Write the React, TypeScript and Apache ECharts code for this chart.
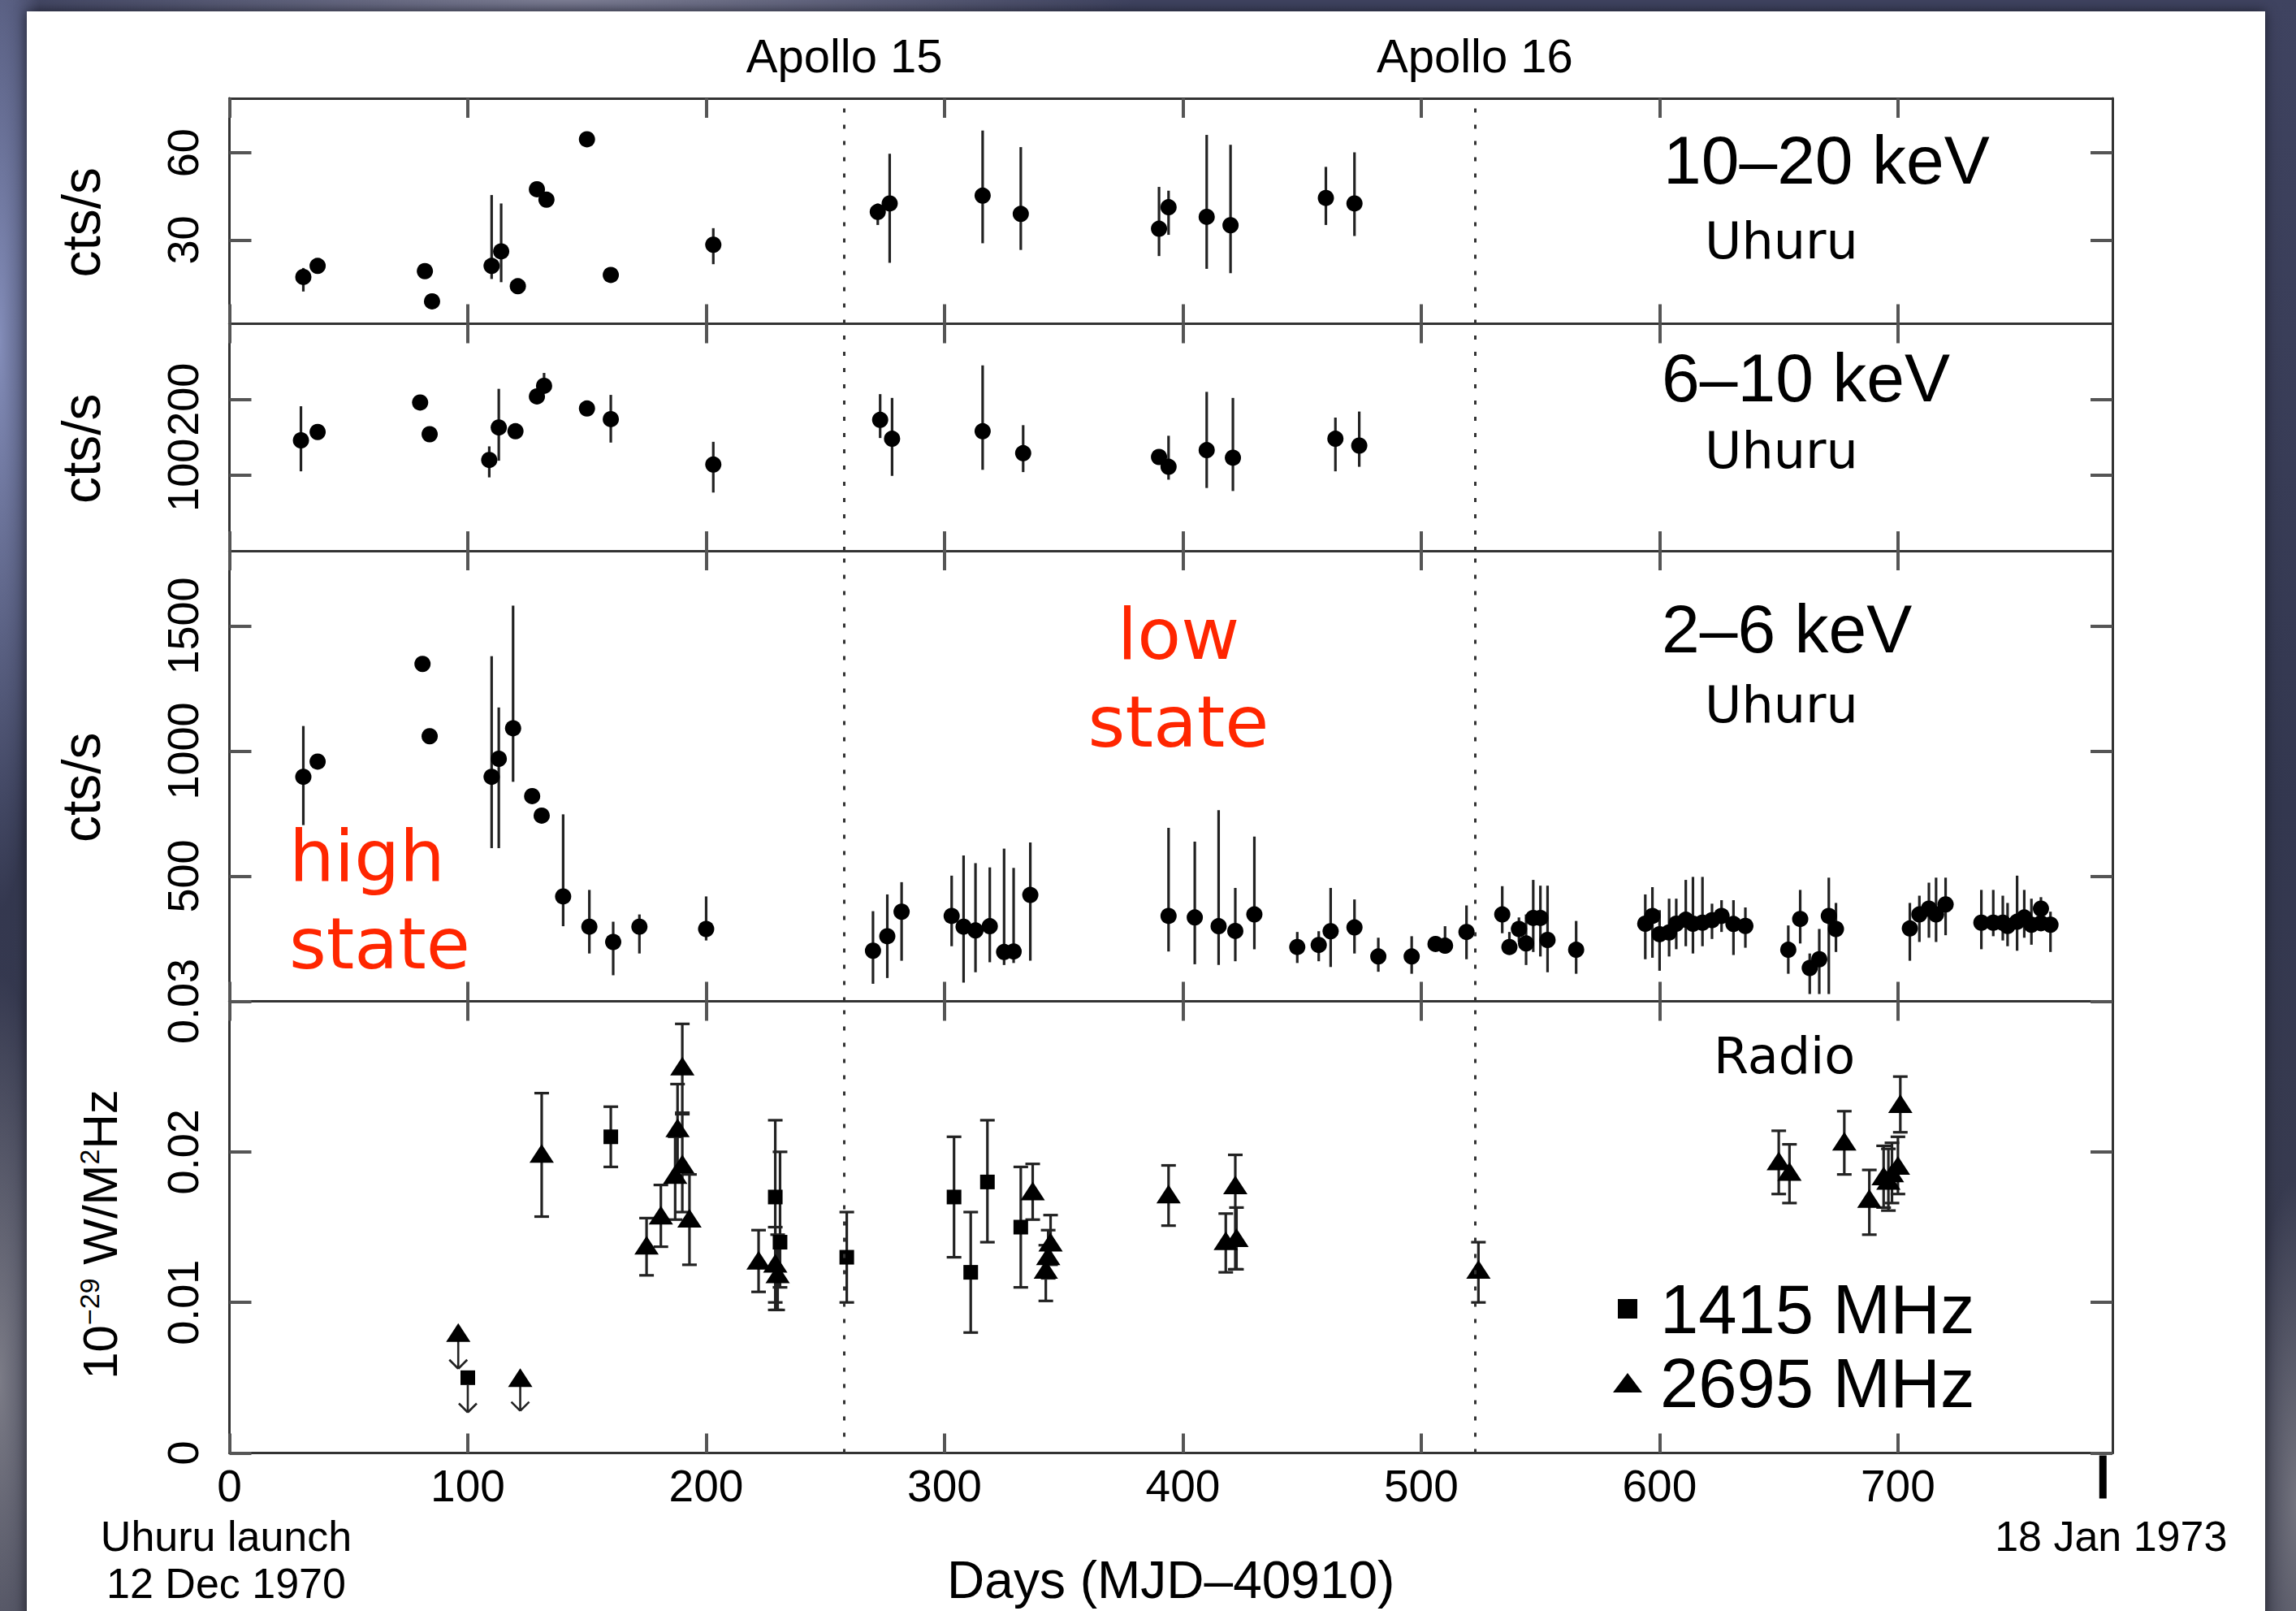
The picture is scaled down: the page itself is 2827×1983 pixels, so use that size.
import React, { useEffect, useRef } from 'react';
import * as echarts from 'echarts';

const SANS = "'Liberation Sans', Arial, Helvetica, sans-serif";
const VERD = "'DejaVu Sans', Verdana, sans-serif";

// ---------- axes / annotations ----------
const dayTicks = [0, 100, 200, 300, 400, 500, 600, 700];
const apolloDays = [258, 522.5];
const apolloNames = ['Apollo 15', 'Apollo 16'];
const milestoneDays = [0, 786];
const milestoneLabels = ['Uhuru launch\n12 Dec 1970', '18 Jan 1973'];

// ---------- 10–20 keV (Uhuru) ----------
const hardDay = [31, 37, 82, 85, 110, 114, 121, 129, 133, 150, 160, 203, 272, 277, 316, 332, 390, 394, 410, 420, 460, 472];
const hardRate = [17.3, 21.1, 19.3, 8.9, 21.1, 26.1, 14.1, 47.5, 43.9, 64.7, 18.0, 28.4, 39.7, 42.6, 45.3, 39.0, 33.9, 41.3, 38.0, 35.1, 44.5, 42.6];
const hardLo = [12.3, null, null, null, 16.6, 15.5, null, null, null, null, null, 21.7, 35.2, 22.2, 28.9, 26.6, 24.5, 31.8, 20.1, 18.6, 35.2, 31.4];
const hardHi = [20.4, null, null, null, 45.5, 42.6, null, null, null, null, null, 34.1, 42.6, 59.7, 67.7, 62.0, 48.3, 47.0, 66.2, 62.8, 55.2, 60.2];

// ---------- 6–10 keV (Uhuru) ----------
const midDay = [30, 37, 80, 84, 109, 113, 120, 129, 132, 150, 160, 203, 273, 278, 316, 333, 390, 394, 410, 421, 464, 474];
const midRate = [146, 157, 196, 154, 120, 163, 158, 204, 218, 188, 174, 114, 173, 148, 158, 129, 124, 111, 133, 123, 148, 139];
const midLo = [105, null, null, null, 97, 119, null, null, 210, null, 143, 77, 149, 99, 107, 104, null, 94, 83, 79, 105, 111];
const midHi = [191, null, null, null, 138, 214, null, null, 235, null, 206, 144, 207, 202, 245, 166, null, 152, 210, 202, 176, 184];

// ---------- 2–6 keV (Uhuru) ----------
const softDay = [31, 37, 81, 84, 110, 113, 119, 127, 131, 140, 151, 161, 172, 200,
  270, 276, 282, 303, 308, 313, 319, 325, 329, 336, 394, 405, 415, 422, 430, 448, 457, 462, 472, 482,
  496, 506, 510, 519, 534, 537, 541, 544, 547, 550, 553, 565, 594, 597, 600, 604, 607, 611, 614, 618,
  622, 626, 631, 636, 654, 659, 663, 667, 671, 674, 705, 709, 713, 716, 720, 735, 740, 744, 746, 750,
  753, 756, 760, 760, 764];
const softRate = [897, 958, 1348, 1059, 897, 969, 1091, 820, 742, 419, 298, 237, 298, 289,
  202, 260, 358, 341, 298, 283, 300, 197, 199, 425, 341, 335, 300, 281, 347, 217, 225, 280, 295, 179,
  179, 229, 222, 277, 347, 217, 289, 231, 333, 333, 245, 206, 310, 341, 268, 275, 310, 326, 310, 314,
  324, 341, 309, 301, 206, 329, 133, 168, 341, 289, 291, 347, 370, 347, 387, 314, 314, 314, 301, 318,
  335, 306, 370, 312, 306];
const softLo = [704, null, null, null, 612, 612, 877, null, null, 300, 191, 104, 191, 243,
  70, 93, 162, 220, 75, 116, 156, 145, 153, 162, 199, 148, 145, 160, 208, 153, 160, 137, 191, 118,
  110, null, 191, 168, 272, 187, 237, 145, 197, 179, 116, 110, 168, 174, 122, 179, 208, 220, 191, 220,
  249, 277, 185, 214, 110, 231, 29, 29, 29, 197, 162, 237, 254, 237, 264, 208, 260, 243, 220, 202,
  254, 226, 312, null, 197];
const softHi = [1100, null, null, null, 1379, 1174, 1581, null, null, 747, 445, 318, 347, 419,
  360, 427, 476, 502, 583, 552, 535, 610, 533, 635, 693, 638, 764, 453, 658, 277, 280, 453, 407, 254,
  260, null, 300, 383, 460, 277, 335, 347, 485, 462, 462, 321, 427, 456, 364, 410, 410, 485, 497, 497,
  390, 404, 404, 375, 303, 445, 191, 289, 494, 393, 393, 422, 474, 494, 494, 445, 445, 422, 393, 502,
  445, 410, 416, null, 358];

// ---------- Radio 1415 MHz (squares) ----------
const sqDay = [160, 229, 231, 259, 304, 311, 318, 332];
const sqFlux = [0.0210, 0.0170, 0.0140, 0.0130, 0.0170, 0.0120, 0.0180, 0.0150];
const sqLo = [0.0190, 0.0095, 0.0110, 0.0100, 0.0130, 0.0080, 0.0140, 0.0110];
const sqHi = [0.0230, 0.0221, 0.0200, 0.0160, 0.0210, 0.0160, 0.0221, 0.0190];
const sqLimDay = [100];
const sqLimFlux = [0.0050];
const sqLimTip = [0.0027];

// ---------- Radio 2695 MHz (triangles) ----------
const triDay = [131, 175, 181, 187, 188, 190, 190, 193, 222, 229, 230, 337, 342.5, 343.5, 344.5, 394, 418, 422, 422.5, 524, 650, 654.5, 677.5, 688, 694, 696, 697.5, 700, 701];
const triFlux = [0.0199, 0.0138, 0.0158, 0.0185, 0.0216, 0.0192, 0.0257, 0.0156, 0.0128, 0.0126, 0.0119, 0.0174, 0.0122, 0.0131, 0.0140, 0.0172, 0.0141, 0.0178, 0.0143, 0.0122, 0.0194, 0.0187, 0.0207, 0.0169, 0.0184, 0.0181, 0.0186, 0.0191, 0.0232];
const triLo = [0.0157, 0.0118, 0.0137, 0.0155, 0.0180, 0.0160, 0.0226, 0.0125, 0.0107, 0.0100, 0.0095, 0.0155, 0.0101, 0.0116, 0.0125, 0.0151, 0.0120, 0.0122, 0.0122, 0.0100, 0.0172, 0.0166, 0.0185, 0.0145, 0.0163, 0.0161, 0.0166, 0.0172, 0.0213];
const triHi = [0.0239, 0.0156, 0.0178, 0.0210, 0.0245, 0.0225, 0.0285, 0.0185, 0.0148, 0.0150, 0.0145, 0.0192, 0.0138, 0.0148, 0.0158, 0.0191, 0.0159, 0.0198, 0.0163, 0.0140, 0.0214, 0.0205, 0.0227, 0.0188, 0.0204, 0.0202, 0.0206, 0.0210, 0.0250];
const triLimDay = [96, 122];
const triLimFlux = [0.0080, 0.0050];
const triLimTip = [0.0056, 0.0028];

// ---------- panel y-scales ----------
const yMin = [1.2, 0, 0, 0];
const yMax = [78.8, 300, 1800, 0.03];
const yTickVals = [[30, 60], [100, 200], [500, 1000, 1500], [0, 0.01, 0.02, 0.03]];

// ---------- layout ----------
const GL = 282.5;
const GW = 2318.5;
const panelTop = [121, 398.5, 678, 1232.5];
const panelH = [277.5, 279.5, 554.5, 556];

const AX = '#333';
const TK = '#555';

function errRows(d: number[], v: number[], lo: (number | null)[], hi: (number | null)[]) {
  const rows: number[][] = [];
  d.forEach((x, i) => {
    if (lo[i] != null && hi[i] != null) rows.push([x, v[i], lo[i] as number, hi[i] as number]);
  });
  return rows;
}

function plainErr(params: any, api: any) {
  const d = api.value(0);
  const a = api.coord([d, api.value(2)]);
  const b = api.coord([d, api.value(3)]);
  return { type: 'line', shape: { x1: a[0], y1: a[1], x2: b[0], y2: b[1] }, style: { stroke: '#222', lineWidth: 3.2 } };
}

function capErr(params: any, api: any) {
  const d = api.value(0);
  const a = api.coord([d, api.value(2)]);
  const b = api.coord([d, api.value(3)]);
  const st = { stroke: '#222', lineWidth: 3.2 };
  const c = 9;
  return {
    type: 'group',
    children: [
      { type: 'line', shape: { x1: a[0], y1: a[1], x2: b[0], y2: b[1] }, style: st },
      { type: 'line', shape: { x1: a[0] - c, y1: a[1], x2: a[0] + c, y2: a[1] }, style: st },
      { type: 'line', shape: { x1: b[0] - c, y1: b[1], x2: b[0] + c, y2: b[1] }, style: st },
    ],
  };
}

function limitArrow(params: any, api: any) {
  const d = api.value(0);
  const p0 = api.coord([d, api.value(1)]);
  const p1 = api.coord([d, api.value(2)]);
  const st = { stroke: '#222', lineWidth: 2.6 };
  const h = 11;
  return {
    type: 'group',
    children: [
      { type: 'line', shape: { x1: p0[0], y1: p0[1] + 9, x2: p1[0], y2: p1[1] }, style: st },
      { type: 'line', shape: { x1: p1[0] - h, y1: p1[1] - h, x2: p1[0], y2: p1[1] }, style: st },
      { type: 'line', shape: { x1: p1[0] + h, y1: p1[1] - h, x2: p1[0], y2: p1[1] }, style: st },
    ],
  };
}

function milestoneRender(params: any, api: any) {
  const d = api.value(0);
  const p = api.coord([d, 0]);
  const label = milestoneLabels[params.dataIndex] || '';
  const children: any[] = [];
  const isEnd = params.dataIndex === 1;
  if (isEnd) {
    children.push({ type: 'rect', shape: { x: p[0] - 4.5, y: p[1] + 3, width: 9, height: 53 }, style: { fill: '#000' } });
  }
  children.push({
    type: 'text',
    style: {
      text: label, x: p[0] + (isEnd ? 10 : -4), y: p[1] + 73,
      fill: '#000', fontSize: 52, fontFamily: SANS, lineHeight: 58,
      align: 'center', verticalAlign: 'top', textAlign: 'center', textVerticalAlign: 'top',
    },
  });
  return { type: 'group', children };
}

function xAx(gi: number, pos: string, showLabel: boolean, name?: string) {
  return {
    type: 'value', gridIndex: gi, position: pos, min: 0, max: 790,
    axisLine: { show: true, onZero: false, lineStyle: { color: AX, width: 3 } },
    axisTick: { show: true, inside: true, length: 24, customValues: dayTicks, lineStyle: { color: TK, width: 4 } },
    axisLabel: {
      show: showLabel, customValues: dayTicks, margin: 16, fontSize: 55, lineHeight: 48, fontFamily: SANS, color: '#000',
      formatter: (v: number) => (v > 700 ? '' : String(v)),
    },
    splitLine: { show: false },
    name: name || '',
    nameLocation: 'middle',
    nameGap: 124,
    nameTextStyle: { fontSize: 64, fontFamily: SANS, color: '#000' },
  };
}

function yAx(gi: number, pos: string, showLabel: boolean, extra: any = {}) {
  return {
    type: 'value', gridIndex: gi, position: pos, min: yMin[gi], max: yMax[gi],
    axisLine: { show: true, onZero: false, lineStyle: { color: AX, width: 3 } },
    axisTick: { show: true, inside: true, length: 27, customValues: yTickVals[gi], lineStyle: { color: TK, width: 4 } },
    axisLabel: {
      show: showLabel, customValues: yTickVals[gi], rotate: 90, margin: 31, fontSize: 54, fontFamily: SANS, color: '#000',
      formatter: (v: number) => String(v),
    },
    splitLine: { show: false },
    ...extra,
  };
}

const ctsName = {
  name: 'cts/s', nameLocation: 'middle', nameGap: 150,
  nameTextStyle: { fontSize: 66, fontFamily: SANS, color: '#000', padding: [0, 28, 0, 0] },
};

const radioName = {
  name: '{n|10}{s|−29}{n| W/M}{s|2}{n|Hz}', nameLocation: 'middle', nameGap: 128,
  nameTextStyle: {
    color: '#000', fontFamily: SANS, padding: [0, 18, 0, 0],
    rich: {
      n: { fontSize: 60, fontFamily: SANS, color: '#000', lineHeight: 62 },
      s: { fontSize: 34, fontFamily: SANS, color: '#000', verticalAlign: 'top', lineHeight: 62, padding: [0, 0, 24, 0] },
    },
  },
};

function apolloMarkLine(withLabel: boolean) {
  return {
    silent: true,
    animation: false,
    symbol: ['none', 'none'],
    lineStyle: { type: [5, 15], color: '#333', width: 3 },
    label: {
      show: withLabel, position: 'end', distance: 24, fontSize: 58, fontFamily: SANS, color: '#000',
    },
    data: apolloDays.map((d, k) => ({ xAxis: d, label: { formatter: apolloNames[k] } })),
  };
}

const xraySets = [
  { d: hardDay, v: hardRate, lo: hardLo, hi: hardHi },
  { d: midDay, v: midRate, lo: midLo, hi: midHi },
  { d: softDay, v: softRate, lo: softLo, hi: softHi },
];

function buildOption() {
  const grid = panelTop.map((t, i) => ({ left: GL, top: t, width: GW, height: panelH[i] }));
  const xAxis: any[] = [];
  const yAxis: any[] = [];
  for (let i = 0; i < 4; i++) {
    xAxis.push(xAx(i, 'bottom', i === 3, i === 3 ? 'Days (MJD–40910)' : ''));
    xAxis.push(xAx(i, 'top', false));
    yAxis.push(yAx(i, 'left', true, i < 3 ? ctsName : radioName));
    yAxis.push(yAx(i, 'right', false));
  }

  const series: any[] = [];
  xraySets.forEach((s, i) => {
    series.push({
      type: 'custom', xAxisIndex: 2 * i, yAxisIndex: 2 * i, z: 2, silent: true,
      renderItem: plainErr, data: errRows(s.d, s.v, s.lo, s.hi),
    });
    series.push({
      type: 'scatter', xAxisIndex: 2 * i, yAxisIndex: 2 * i, z: 3, silent: true,
      symbol: 'circle', symbolSize: 20, itemStyle: { color: '#000', opacity: 1 },
      data: s.d.map((x, k) => [x, s.v[k]]),
      markLine: apolloMarkLine(i === 0),
    });
  });

  // radio
  series.push({
    type: 'custom', xAxisIndex: 6, yAxisIndex: 6, z: 2, silent: true,
    renderItem: capErr, data: errRows(sqDay, sqFlux, sqLo, sqHi),
  });
  series.push({
    type: 'custom', xAxisIndex: 6, yAxisIndex: 6, z: 2, silent: true,
    renderItem: capErr, data: errRows(triDay, triFlux, triLo, triHi),
  });
  series.push({
    type: 'custom', xAxisIndex: 6, yAxisIndex: 6, z: 2, silent: true,
    renderItem: limitArrow,
    data: [
      ...sqLimDay.map((d, k) => [d, sqLimFlux[k], sqLimTip[k]]),
      ...triLimDay.map((d, k) => [d, triLimFlux[k], triLimTip[k]]),
    ],
  });
  series.push({
    name: '1415 MHz', type: 'scatter', xAxisIndex: 6, yAxisIndex: 6, z: 3, silent: true,
    symbol: 'rect', symbolSize: 18, itemStyle: { color: '#000', opacity: 1 },
    data: [...sqDay.map((x, k) => [x, sqFlux[k]]), ...sqLimDay.map((x, k) => [x, sqLimFlux[k]])],
    markLine: apolloMarkLine(false),
  });
  series.push({
    name: '2695 MHz', type: 'scatter', xAxisIndex: 6, yAxisIndex: 6, z: 3, silent: true,
    symbol: 'triangle', symbolSize: [30, 23], itemStyle: { color: '#000', opacity: 1 },
    data: [...triDay.map((x, k) => [x, triFlux[k]]), ...triLimDay.map((x, k) => [x, triLimFlux[k]])],
  });
  series.push({
    type: 'custom', xAxisIndex: 6, yAxisIndex: 6, z: 4, silent: true, clip: false,
    renderItem: milestoneRender, data: milestoneDays.map((d) => [d, 0]),
  });

  const txt = (text: string, x: number, y: number, size: number, family: string, fill = '#000', align = 'left') => ({
    type: 'text', silent: true,
    style: {
      text, x, y, fill, fontSize: size, fontFamily: family,
      align, verticalAlign: 'middle', textAlign: align, textVerticalAlign: 'middle',
    },
  });

  const RED = '#ff2600';
  const graphic = [
    txt('10–20 keV', 2048, 197, 84, SANS),
    txt('Uhuru', 2099, 296, 62, VERD),
    txt('6–10 keV', 2046, 465, 84, SANS),
    txt('Uhuru', 2099, 554, 62, VERD),
    txt('2–6 keV', 2046, 774, 84, SANS),
    txt('Uhuru', 2099, 867, 62, VERD),
    txt('Radio', 2110, 1299, 62, VERD),
    txt('high', 356, 1053, 88, VERD, RED),
    txt('state', 356, 1161, 88, VERD, RED),
    txt('low', 1451, 780, 88, VERD, RED, 'center'),
    txt('state', 1451, 888, 88, VERD, RED, 'center'),
  ];

  return {
    animation: false,
    backgroundColor: 'transparent',
    textStyle: { fontFamily: SANS },
    grid,
    xAxis,
    yAxis,
    series,
    graphic,
    legend: {
      show: true,
      orient: 'vertical',
      left: 1981,
      top: 1563,
      itemWidth: 36,
      itemHeight: 24,
      itemGap: 5,
      selectedMode: false,
      textStyle: { fontSize: 85, fontFamily: SANS, color: '#000', lineHeight: 86, padding: [0, 0, 0, 17] },
      data: [
        { name: '1415 MHz', icon: 'path://M0,0L10,0L10,10L0,10Z' },
        { name: '2695 MHz', icon: 'triangle' },
      ],
    },
  };
}

export default function App() {
  const ref = useRef<HTMLDivElement>(null);
  useEffect(() => {
    if (!ref.current) return;
    const chart = echarts.init(ref.current, null, { renderer: 'svg' });
    chart.setOption(buildOption() as any);
    return () => chart.dispose();
  }, []);
  const bg =
    'radial-gradient(ellipse 60px 700px at 0px 420px, rgba(135,145,190,0.95), rgba(0,0,0,0) 100%),' +
    'radial-gradient(ellipse 70px 500px at 0px 1700px, rgba(130,130,140,0.9), rgba(0,0,0,0) 100%),' +
    'radial-gradient(ellipse 700px 40px at 700px 0px, rgba(150,150,170,0.7), rgba(0,0,0,0) 100%),' +
    'radial-gradient(ellipse 60px 400px at 2827px 1850px, rgba(120,120,130,0.9), rgba(0,0,0,0) 100%),' +
    'linear-gradient(180deg, #3f4360 0%, #33374f 50%, #3c3e50 100%)';
  return (
    <div style={{ position: 'absolute', left: 0, top: 0, width: 2827, height: 1983, overflow: 'hidden', background: bg }}>
      <div style={{ position: 'absolute', left: 33, top: 14, width: 2756, height: 1980, background: '#fff', boxShadow: '0 0 14px rgba(0,0,0,0.55)' }} />
      <div ref={ref} style={{ position: 'absolute', left: 0, top: 0, width: 2827, height: 1983 }} />
    </div>
  );
}
